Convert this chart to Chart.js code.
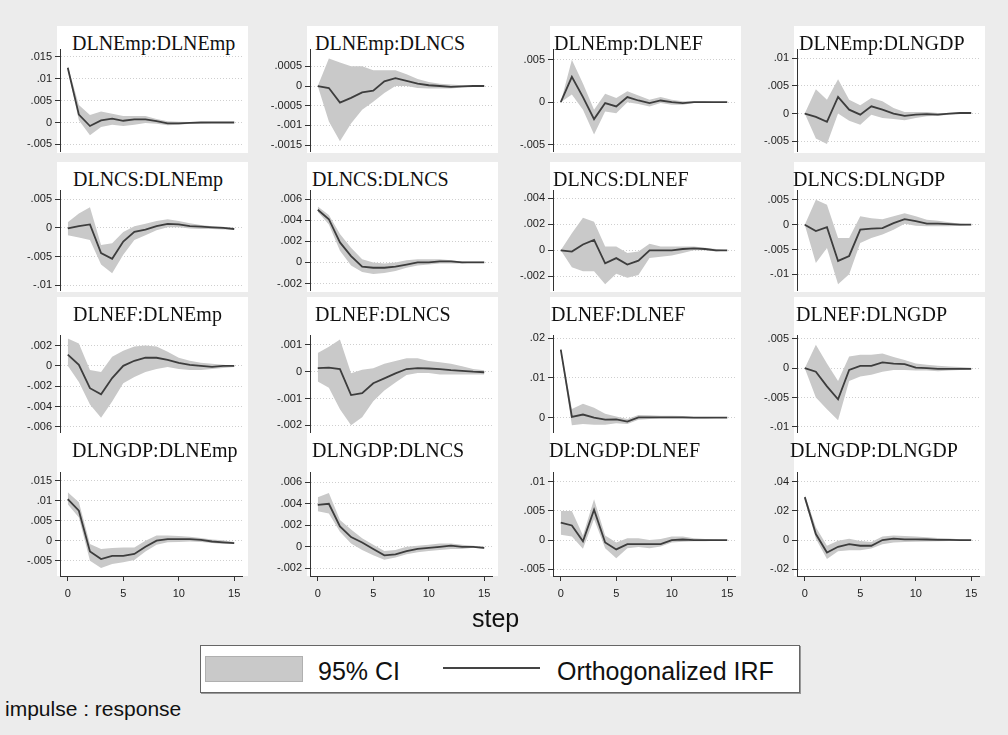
<!DOCTYPE html>
<html>
<head>
<meta charset="utf-8">
<script src="https://cdn.jsdelivr.net/npm/chart.js@4.4.1/dist/chart.umd.min.js"></script>
<style>
  body { margin: 0; background: #ececec; }
  #page { position: relative; width: 1008px; height: 735px; overflow: hidden; background: #ececec; font-family: 'Liberation Sans', Arial, sans-serif; }
  .box { position: absolute; background: #fff; }
  .ttl { position: absolute; font: 20px 'Liberation Serif', 'Times New Roman', serif; color: #111; white-space: nowrap; line-height: 1; }
  canvas { position: absolute; }
  .txt { position: absolute; white-space: nowrap; line-height: 1; color: #111; }
</style>
</head>
<body>
<div id="page"></div>
<script>
// steps (x axis)
const steps = [0, 1, 2, 3, 4, 5, 6, 7, 8, 9, 10, 11, 12, 13, 14, 15];
const xTicks = [0, 5, 10, 15];
const names = ['DLNEmp', 'DLNCS', 'DLNEF', 'DLNGDP'];

// impulse DLNEmp
const irfEmpEmp = [0.0125, 0.0018, -0.0008, 0.0005, 0.0009, 0.0004, 0.0007, 0.0007, 0.0003, -0.0002, -0.0002, -0.0001, 0, 0, 0, 0];
const hiEmpEmp = [0.013, 0.004, 0.0017, 0.0025, 0.002, 0.0015, 0.0015, 0.0015, 0.0008, 0.0003, 0.0002, 0.0001, 0.0001, 0.0001, 0.0001, 0.0001];
const loEmpEmp = [0.012, 0.0005, -0.0029, -0.001, -0.0005, -0.0008, -0.0005, -0.0001, -0.0003, -0.0006, -0.0005, -0.0003, -0.0002, -0.0001, -0.0001, 0];
const irfEmpCS = [0, -0.00005, -0.00042, -0.0003, -0.00016, -0.00012, 0.00012, 0.0002, 0.00013, 0.00006, 0.00002, 0, -0.00002, -0.00001, 0, 0];
const hiEmpCS = [0, 0.0007, 0.0006, 0.0005, 0.0005, 0.0004, 0.0004, 0.0004, 0.0003, 0.00018, 0.0001, 0.00006, 0.00004, 0.00002, 0.00001, 0];
const loEmpCS = [0, -0.0009, -0.0014, -0.00095, -0.0006, -0.0004, -0.00018, 0, 0, -0.00005, -0.00006, -0.00006, -0.00006, -0.00004, -0.00001, 0];
const irfEmpEF = [0, 0.003, 0.0006, -0.002, -0.0001, -0.0005, 0.0006, 0.0002, -0.0001, 0.0002, 0, -0.0001, 0, 0, 0, 0];
const hiEmpEF = [0, 0.005, 0.0022, -0.0009, 0.001, 0.0005, 0.0013, 0.0008, 0.0003, 0.0006, 0.0003, 0.0001, 0.0001, 0.0001, 0, 0];
const loEmpEF = [0, 0.0009, -0.0009, -0.0038, -0.0011, -0.0013, 0, -0.0002, -0.0005, -0.0001, -0.0003, -0.0003, -0.0001, -0.0001, 0, 0];
const irfEmpGDP = [0, -0.0006, -0.0015, 0.003, 0.0007, -0.0002, 0.0013, 0.0007, 0, -0.0004, -0.0002, -0.0001, -0.0002, 0, 0.0001, 0.0001];
const hiEmpGDP = [0, 0.0044, 0.0025, 0.0062, 0.0025, 0.0015, 0.0028, 0.0022, 0.001, 0.0003, 0.0003, 0.0003, 0.0001, 0.0001, 0.0002, 0.0001];
const loEmpGDP = [0, -0.0045, -0.0055, 0, -0.0013, -0.002, -0.0002, -0.0008, -0.001, -0.0012, -0.0008, -0.0005, -0.0004, -0.0002, 0, 0.0001];

// impulse DLNCS
const irfCSEmp = [-0.0001, 0.0003, 0.0006, -0.0044, -0.0054, -0.0024, -0.0007, -0.0003, 0.0003, 0.0007, 0.0006, 0.0003, 0.0002, 0.0001, 0, -0.0002];
const hiCSEmp = [0.001, 0.0025, 0.0036, -0.003, -0.0027, -0.0007, 0.0003, 0.0007, 0.0012, 0.0015, 0.0012, 0.0008, 0.0005, 0.0003, 0.0002, -0.0001];
const loCSEmp = [-0.0013, -0.0017, -0.0021, -0.0064, -0.0079, -0.0047, -0.0021, -0.0013, -0.0004, 0.0001, 0.0001, -0.0001, -0.0002, -0.0002, -0.0003, -0.0003];
const irfCSCS = [0.005, 0.0041, 0.0019, 0.0006, -0.0004, -0.0005, -0.0005, -0.0004, -0.0002, 0, 0, 0.0001, 0.0001, 0, 0, 0];
const hiCSCS = [0.0053, 0.0045, 0.0027, 0.0014, 0.0003, 0, -0.0001, 0, 0.0002, 0.0003, 0.0003, 0.0003, 0.0002, 0.0001, 0.0001, 0.0001];
const loCSCS = [0.0048, 0.0036, 0.0011, -0.0003, -0.0009, -0.0011, -0.001, -0.0008, -0.0005, -0.0003, -0.0002, -0.0001, -0.0001, -0.0001, 0, 0];
const irfCSEF = [0, -0.0001, 0.00045, 0.0008, -0.001, -0.0006, -0.0011, -0.0008, 0, 0, 0, 0.0001, 0.00015, 0.0001, 0, 0];
const hiCSEF = [0, 0.0013, 0.0025, 0.0022, 0.0003, 0.0003, -0.0002, -0.0001, 0.0005, 0.0003, 0.0003, 0.0003, 0.0003, 0.0002, 0.0001, 0];
const loCSEF = [0, -0.0013, -0.0016, -0.0016, -0.0026, -0.0018, -0.0021, -0.0019, -0.0006, -0.0005, -0.0004, -0.0002, 0, 0, -0.0001, 0];
const irfCSGDP = [0, -0.0013, -0.0005, -0.0073, -0.0063, -0.001, -0.0008, -0.0007, 0.0003, 0.0011, 0.0007, 0.0002, 0.0002, 0.0001, 0, 0];
const hiCSGDP = [0, 0.005, 0.004, -0.0027, -0.0027, 0.0017, 0.0013, 0.0011, 0.0017, 0.0023, 0.0017, 0.001, 0.0008, 0.0005, 0.0002, 0.0001];
const loCSGDP = [0, -0.0077, -0.0047, -0.012, -0.01, -0.0037, -0.0027, -0.002, -0.001, 0.0002, -0.0002, -0.0003, -0.0003, -0.0003, -0.0002, -0.0001];

// impulse DLNEF
const irfEFEmp = [0.0011, 0.0001, -0.0022, -0.0028, -0.0012, 0, 0.0005, 0.0008, 0.0008, 0.0006, 0.0003, 0.0001, 0, -0.0001, 0, 0];
const hiEFEmp = [0.0027, 0.0022, -0.0004, -0.0006, 0.0009, 0.0015, 0.0019, 0.002, 0.0019, 0.0014, 0.0008, 0.0005, 0.0003, 0.0002, 0.0001, 0];
const loEFEmp = [0, -0.0016, -0.0038, -0.0051, -0.0035, -0.0017, -0.0011, -0.0006, -0.0003, -0.0001, -0.0003, -0.0004, -0.0004, -0.0003, -0.0002, -0.0001];
const irfEFCS = [0.00013, 0.00015, 0.0001, -0.00087, -0.0008, -0.00043, -0.00025, -0.00006, 0.0001, 0.00013, 0.00012, 0.0001, 0.00006, 0.00003, 0, -0.00002];
const hiEFCS = [0.0007, 0.00093, 0.0012, -0.00006, 0.00007, 0.00013, 0.0003, 0.0004, 0.0005, 0.0005, 0.0004, 0.00035, 0.0003, 0.0002, 0.0001, 0.00005];
const loEFCS = [-0.00037, -0.0006, -0.0014, -0.002, -0.0017, -0.0011, -0.0007, -0.0004, -0.00012, -0.00005, -0.00005, -0.0001, -0.0001, -0.0001, -0.0001, -0.0001];
const irfEFEF = [0.0171, 0.0002, 0.0008, 0, -0.0005, -0.0004, -0.001, 0.0001, 0.0001, 0.0001, 0.0001, 0.0001, 0, 0, 0, 0];
const hiEFEF = [0.0175, 0.0022, 0.0035, 0.0025, 0.001, 0.0003, -0.0003, 0.0007, 0.0006, 0.0005, 0.0005, 0.0004, 0.0002, 0.0002, 0.0001, 0];
const loEFEF = [0.0167, -0.0019, -0.0016, -0.0018, -0.0018, -0.0014, -0.0016, -0.0005, -0.0003, -0.0002, -0.0002, -0.0002, -0.0002, -0.0002, -0.0001, 0];
const irfEFGDP = [0, -0.0006, -0.0031, -0.0053, -0.0003, 0.0004, 0.0004, 0.001, 0.0008, 0.0007, 0.0001, 0, -0.0001, -0.0001, -0.0001, -0.0001];
const hiEFGDP = [0, 0.004, 0.0008, -0.0022, 0.002, 0.0023, 0.0023, 0.0025, 0.0019, 0.0014, 0.0008, 0.0006, 0.0004, 0.0003, 0.0002, 0.0001];
const loEFGDP = [0, -0.005, -0.007, -0.0089, -0.0022, -0.0014, -0.0011, -0.0006, -0.0003, -0.0003, -0.0004, -0.0004, -0.0005, -0.0004, -0.0003, -0.0002];

// impulse DLNGDP
const irfGDPEmp = [0.0104, 0.0075, -0.0027, -0.0046, -0.0038, -0.0038, -0.0033, -0.0015, 0, 0.0004, 0.0004, 0.0004, 0.0002, -0.0002, -0.0004, -0.0006];
const hiGDPEmp = [0.0121, 0.0096, -0.0008, -0.0021, -0.0018, -0.0017, -0.0017, 0, 0.0013, 0.0013, 0.0012, 0.001, 0.0007, 0.0003, 0.0001, -0.0003];
const loGDPEmp = [0.0091, 0.0058, -0.005, -0.0068, -0.0058, -0.0054, -0.0048, -0.0027, -0.001, -0.0004, -0.0003, -0.0002, -0.0003, -0.0006, -0.0008, -0.0008];
const irfGDPCS = [0.0039, 0.004, 0.0019, 0.0009, 0.0004, -0.0002, -0.0008, -0.0007, -0.0004, -0.0002, -0.0001, 0, 0.0001, 0, 0, -0.0001];
const hiGDPCS = [0.0046, 0.005, 0.0025, 0.0016, 0.0008, 0.0002, -0.0004, -0.0003, 0, 0.0001, 0.0002, 0.0003, 0.0003, 0.0002, 0.0001, 0];
const loGDPCS = [0.0033, 0.0031, 0.0014, 0.0003, -0.0003, -0.0008, -0.0012, -0.001, -0.0007, -0.0005, -0.0004, -0.0003, -0.0002, -0.0002, -0.0001, -0.0002];
const irfGDPEF = [0.003, 0.0025, -0.0002, 0.0052, -0.0004, -0.0016, -0.0007, -0.0007, -0.0007, -0.0007, 0, 0.0001, 0, 0, 0, 0];
const hiGDPEF = [0.005, 0.005, 0.0008, 0.007, 0.0008, -0.0004, 0.0003, 0.0003, 0, 0.0002, 0.0006, 0.0006, 0.0003, 0.0002, 0.0001, 0];
const loGDPEF = [0.0009, 0.0006, -0.0015, 0.0036, -0.0014, -0.0031, -0.0014, -0.0012, -0.0014, -0.0011, -0.0004, -0.0003, -0.0002, -0.0002, -0.0001, 0];
const irfGDPGDP = [0.0294, 0.0041, -0.0085, -0.0046, -0.0028, -0.0039, -0.0039, 0, 0.001, 0.0005, 0.0005, 0.0004, 0.0002, 0.0001, 0, 0];
const hiGDPGDP = [0.031, 0.0087, -0.0039, -0.0005, 0.0009, -0.0007, -0.0014, 0.0025, 0.0032, 0.0028, 0.0025, 0.002, 0.0014, 0.001, 0.0006, 0.0003];
const loGDPGDP = [0.028, 0.0009, -0.013, -0.0076, -0.007, -0.007, -0.0058, -0.0028, -0.0016, -0.0014, -0.0012, -0.0009, -0.0008, -0.0006, -0.0004, -0.0003];

// y tick labels and axis ranges, row by row
const yTicks = [
  [[-0.005, 0, 0.005, 0.01, 0.015], [-0.0015, -0.001, -0.0005, 0, 0.0005], [-0.005, 0, 0.005], [-0.005, 0, 0.005, 0.01]],
  [[-0.01, -0.005, 0, 0.005], [-0.002, 0, 0.002, 0.004, 0.006], [-0.002, 0, 0.002, 0.004], [-0.01, -0.005, 0, 0.005]],
  [[-0.006, -0.004, -0.002, 0, 0.002], [-0.002, -0.001, 0, 0.001], [0, 0.01, 0.02], [-0.01, -0.005, 0, 0.005]],
  [[-0.005, 0, 0.005, 0.01, 0.015], [-0.002, 0, 0.002, 0.004, 0.006], [-0.005, 0, 0.005, 0.01], [-0.02, 0, 0.02, 0.04]]
];
const yRanges = [
  [[-0.0066, 0.0168], [-0.00166, 0.00094], [-0.00581, 0.00628], [-0.00683, 0.01165]],
  [[-0.0109, 0.0066], [-0.00265, 0.00687], [-0.00308, 0.00463], [-0.01323, 0.00698]],
  [[-0.00675, 0.00304], [-0.00234, 0.00137], [-0.0042, 0.0208], [-0.0113, 0.00567]],
  [[-0.00883, 0.01718], [-0.00272, 0.00696], [-0.00615, 0.01166], [-0.0246, 0.0466]]
];

const irfs = [
  [irfEmpEmp, irfEmpCS, irfEmpEF, irfEmpGDP],
  [irfCSEmp, irfCSCS, irfCSEF, irfCSGDP],
  [irfEFEmp, irfEFCS, irfEFEF, irfEFGDP],
  [irfGDPEmp, irfGDPCS, irfGDPEF, irfGDPGDP]
];
const his = [
  [hiEmpEmp, hiEmpCS, hiEmpEF, hiEmpGDP],
  [hiCSEmp, hiCSCS, hiCSEF, hiCSGDP],
  [hiEFEmp, hiEFCS, hiEFEF, hiEFGDP],
  [hiGDPEmp, hiGDPCS, hiGDPEF, hiGDPGDP]
];
const los = [
  [loEmpEmp, loEmpCS, loEmpEF, loEmpGDP],
  [loCSEmp, loCSCS, loCSEF, loCSGDP],
  [loEFEmp, loEFCS, loEFEF, loEFGDP],
  [loGDPEmp, loGDPCS, loGDPEF, loGDPGDP]
];

// layout (pixels)
const colAxisX = [60, 310, 553, 797];
const rowTop = [49, 190, 335, 472];
const rowBot = [153, 292, 436, 576];
const titleBase = [50, 186, 321, 457];
const titleLeft = [[72, 315, 554, 799], [73, 312, 553, 793], [73, 315, 551, 796], [72, 312, 549, 790]];
const plotW = 182;

Chart.defaults.font.family = "'Liberation Sans', Arial, sans-serif";

const page = document.getElementById('page');

function fmt(v) {
  if (Math.abs(v) < 1e-12) return '0';
  return String(+v.toPrecision(6)).replace('0.', '.');
}

function pts(arr) {
  return arr.map((v, i) => ({ x: steps[i], y: v }));
}

function addText(cls, text, left, top, css) {
  const d = document.createElement('div');
  d.className = cls;
  d.textContent = text;
  d.style.left = left + 'px';
  d.style.top = top + 'px';
  Object.assign(d.style, css || {});
  page.appendChild(d);
  return d;
}

function makePanel(r, c) {
  const bottom = r === 3;
  const ax = colAxisX[c];

  // white plot + title region
  const box = document.createElement('div');
  box.className = 'box';
  const boxTop = titleBase[r] - 24;
  box.style.left = (ax - 3) + 'px';
  box.style.top = boxTop + 'px';
  box.style.width = (plotW + 9) + 'px';
  box.style.height = (rowBot[r] - boxTop) + 'px';
  page.appendChild(box);

  addText('ttl', names[r] + ':' + names[c], titleLeft[r][c], titleBase[r] - 17);

  const cv = document.createElement('canvas');
  const w = 60 + plotW + 6;
  const h = (rowBot[r] - rowTop[r]) + 10 + (bottom ? 34 : 8);
  cv.width = w;
  cv.height = h;
  cv.style.left = (ax - 60) + 'px';
  cv.style.top = (rowTop[r] - 10) + 'px';
  cv.style.width = w + 'px';
  cv.style.height = h + 'px';
  page.appendChild(cv);

  const ticks = yTicks[r][c];
  const range = yRanges[r][c];

  new Chart(cv.getContext('2d'), {
    type: 'line',
    data: {
      datasets: [
        { data: pts(irfs[r][c]), borderWidth: 1.8, borderColor: '#3d3d3d', fill: false, pointRadius: 0 },
        { data: pts(his[r][c]), borderWidth: 0, borderColor: 'rgba(0,0,0,0)', backgroundColor: '#c9c9c9', fill: '+1', pointRadius: 0 },
        { data: pts(los[r][c]), borderWidth: 0, borderColor: 'rgba(0,0,0,0)', fill: false, pointRadius: 0 }
      ]
    },
    options: {
      responsive: false,
      animation: false,
      devicePixelRatio: 1,
      layout: { padding: { top: 10, right: 6, bottom: bottom ? 0 : 8, left: 0 } },
      plugins: { legend: { display: false }, tooltip: { enabled: false } },
      elements: { line: { tension: 0 } },
      scales: {
        x: {
          type: 'linear',
          min: -0.7,
          max: 15.7,
          display: bottom,
          afterBuildTicks: s => { s.ticks = xTicks.map(v => ({ value: v })); },
          afterFit: s => { if (bottom) s.height = 34; },
          ticks: { font: { size: 11 }, color: '#222', padding: 6, maxRotation: 0, autoSkip: false },
          grid: { drawOnChartArea: false, tickLength: 5, tickColor: '#333' },
          border: { color: '#333', width: 1 }
        },
        y: {
          type: 'linear',
          min: range[0],
          max: range[1],
          afterBuildTicks: s => { s.ticks = ticks.map(v => ({ value: v })); },
          afterFit: s => { s.width = 60; },
          ticks: { font: { size: 11 }, color: '#222', padding: 3, autoSkip: false, callback: v => fmt(v) },
          grid: { color: '#cfcfcf', tickLength: 5, tickColor: '#333', lineWidth: 1 },
          border: { color: '#333', width: 1, dash: [1, 2] }
        }
      }
    }
  });
}

for (let r = 0; r < 4; r++) {
  for (let c = 0; c < 4; c++) {
    makePanel(r, c);
  }
}

// shared axis title, legend and note
addText('txt', 'step', 472, 606, { fontSize: '25px' });

const leg = document.createElement('div');
leg.style.cssText = 'position:absolute;left:200px;top:645px;width:598px;height:46px;background:#fff;border:1px solid #666;box-shadow:1px 1px 0 #999;';
page.appendChild(leg);
const sw = document.createElement('div');
sw.style.cssText = 'position:absolute;left:205px;top:656px;width:96px;height:24px;background:#c9c9c9;border:1px solid #b0b0b0;';
page.appendChild(sw);
addText('txt', '95% CI', 318, 659, { fontSize: '25px' });
const ln = document.createElement('div');
ln.style.cssText = 'position:absolute;left:443px;top:667px;width:97px;height:2px;background:#444;';
page.appendChild(ln);
addText('txt', 'Orthogonalized IRF', 557, 659, { fontSize: '25px' });

addText('txt', 'impulse : response', 5, 698, { fontSize: '21px' });
</script>
</body>
</html>
